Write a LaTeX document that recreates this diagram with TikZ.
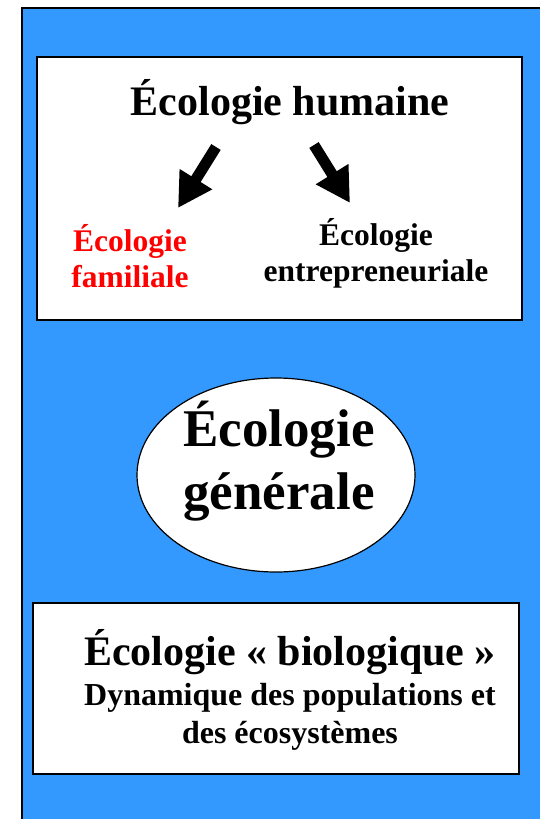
\documentclass[tikz,border=0pt]{standalone}
\usepackage{fontspec}
\setmainfont{Liberation Serif}
\usetikzlibrary{arrows.meta, positioning, shapes.geometric}
\definecolor{fondbleu}{RGB}{51,153,255}

\begin{document}
\begin{tikzpicture}[x=1pt, y=-1pt,
    boite/.style={draw=black, line width=1.5pt, fill=white},
    titre/.style={font=\bfseries\fontsize{42}{50}\selectfont, inner sep=0pt, anchor=base},
    petit/.style={font=\bfseries\fontsize{31.5}{36}\selectfont, inner sep=0pt, anchor=base, align=center},
    fleche/.style={line width=11pt, -{Triangle[length=34pt, width=36pt]}}]
                    % Frame
                    \useasboundingbox (0,0) rectangle (539,819);
                    \draw[fill=fondbleu, line width=2.5pt] (22,8) rectangle (560,840);

                    % Top box
                    \draw[boite] (37,57) rectangle (522,320);
                    \node[titre] (humaine) at (290,115) {Écologie humaine};
                    \node[petit, red] (familiale) at (130,287) {Écologie\\familiale};
                    \node[petit] (entre) at (376,281) {Écologie\\entrepreneuriale};

                    % Arrows
                    \coordinate (gqueue) at (216,147);
                    \coordinate (gpointe) at (178,208);
                    \coordinate (dqueue) at (314,145);
                    \coordinate (dpointe) at (350,203);
                    \draw[fleche] (gqueue) -- (gpointe);
                    \draw[fleche] (dqueue) -- (dpointe);

                    % Ellipse
                    \node[ellipse, boite, line width=1.2pt, minimum width=278pt, minimum height=194pt] (generale) at (276,475) {};
                    \node[font=\bfseries\fontsize{53}{63}\selectfont, inner sep=0pt, anchor=base, align=center] (generaletxt) at (279,509) {Écologie\\générale};

                    % Bottom box
                    \draw[boite] (33,603) rectangle (519,774);
                    \node[titre] (bio) at (290,665) {Écologie «~biologique~»};
                    \node[font=\bfseries\fontsize{32}{38}\selectfont, inner sep=0pt, anchor=base, align=center] (dyna) at (290,743) {Dynamique des populations et\\des écosystèmes};
\end{tikzpicture}
\end{document}
